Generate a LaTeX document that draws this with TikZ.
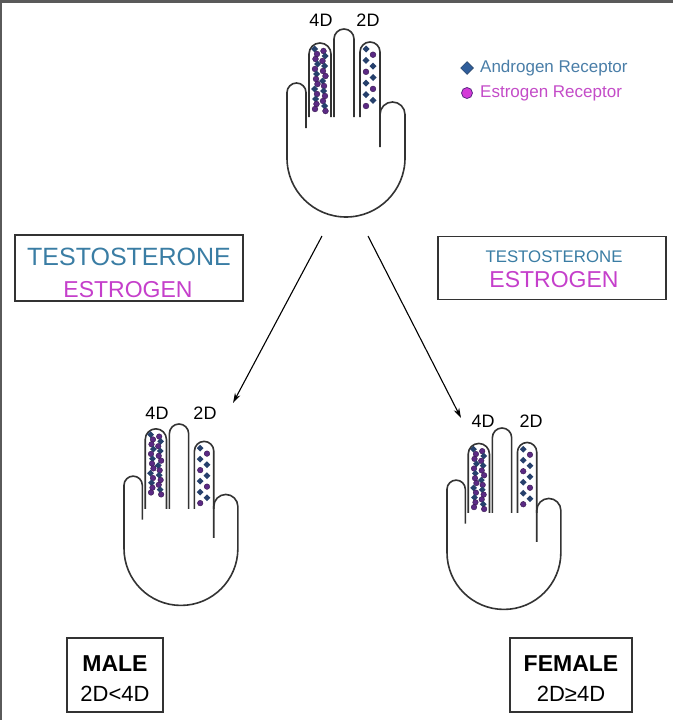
\documentclass[tikz,border=0pt]{standalone}
\usepackage{fontspec}
\setmainfont{Liberation Sans}
\usetikzlibrary{arrows.meta,shapes.geometric}

\definecolor{tcol}{HTML}{3A7DA4}
\definecolor{ecol}{HTML}{C53FCB}
\definecolor{dotC}{HTML}{5B2A84}
\definecolor{dotD}{HTML}{26406C}
\definecolor{legD}{HTML}{2F5D9A}
\definecolor{legC}{HTML}{D43AD8}
\definecolor{legAT}{HTML}{4A7EA8}
\definecolor{legET}{HTML}{C44CC8}
\definecolor{framecol}{HTML}{5A5A5A}
\definecolor{ink}{HTML}{333333}

\tikzset{
  handline/.style={draw=ink, line width=1.6, line join=round},
  boxframe/.style={draw=ink, line width=1.6, inner sep=0pt},
  dlabel/.style={font=\fontsize{18}{21}\selectfont, inner sep=0pt},
  flow/.style={draw=black, line width=1.1, -{Stealth[length=10pt,width=6pt]}},
}

% receptor markers (local coordinates)
\newcommand{\mkC}[2]{\fill[dotC, draw=dotC!60!black, line width=0.4] (#1,#2) circle[radius=2.9];}
\newcommand{\mkD}[2]{\fill[dotD] (#1,#2-3.5) -- (#1+3.5,#2) -- (#1,#2+3.5) -- (#1-3.5,#2) -- cycle;}
% circle or diamond by type number
\newcommand{\mkAny}[3]{\ifnum#1<2 \mkD{#2}{#3}\else\mkC{#2}{#3}\fi}

% hand: #1 left x, #2 top of middle finger, #3 4D top offset, #4 2D top offset, #5 scale
\newcommand{\drawhand}[5]{%
\begin{scope}[shift={(#1,#2)}, scale=#5]
  \draw[handline] (19,99) -- (19,63.5) arc[start angle=360, end angle=180, radius=9.5]
     -- (0,129) arc[start angle=180, end angle=0, radius=59]
     -- (118,85.5) arc[start angle=0, end angle=-180, radius=12.5] -- (93,118);
  \draw[handline] (22,88) -- (22,#3+11) arc[start angle=180, end angle=360, radius=11] -- (44,88);
  \draw[handline] (47,88) -- (47,10) arc[start angle=180, end angle=360, radius=10] -- (67,88);
  \draw[handline] (73,88) -- (73,#4+10) arc[start angle=180, end angle=360, radius=10] -- (93,88);
  % dense receptors in the 4D finger
  \foreach \i in {0,...,12}{
    \pgfmathsetmacro\yy{#3+6+5*\i}
    \pgfmathsetmacro\xa{27.5+{0,2.5,1,3,0.5,2,1.5,3,0,2.5,1,2,0.5}[\i]}
    \pgfmathsetmacro\xb{38.5-{2,0.5,3,1,2.5,0,3,1.5,2,0.5,2.5,1,0}[\i]}
    \pgfmathtruncatemacro\ta{mod(\i*7,5)}
    \pgfmathtruncatemacro\tb{mod(\i*3+2,5)}
    \mkAny{\ta}{\xa}{\yy}\mkAny{\tb}{\xb}{\yy+2}
  }
  % sparse receptors in the 2D finger
  \foreach \i in {0,...,10}{
    \pgfmathsetmacro\yy{#4+7+5.7*\i}
    \pgfmathsetmacro\xa{79+7*mod(\i,2)}
    \ifnum\numexpr\i-3*(\i/3)\relax=1 \mkC{\xa}{\yy}\else \mkD{\xa}{\yy}\fi
  }
\end{scope}}

\begin{document}
\begin{tikzpicture}[x=1pt, y=-1pt]
\useasboundingbox (0,0) rectangle (673,720);
\fill[white] (0,0) rectangle (673,720);
\fill[framecol] (0,0) rectangle (673,2.5);
\fill[framecol] (0,0) rectangle (1.8,720);

% hands
\drawhand{287}{29}{14}{13}{1}
\drawhand{124}{424}{5}{18}{0.965}
\drawhand{447}{428}{16}{15}{0.965}

% finger labels
\node[dlabel] (t4) at (321,20) {4D};
\node[dlabel] (t2) at (368,20) {2D};
\node[dlabel] (m4) at (157,413) {4D};
\node[dlabel] (m2) at (205,413) {2D};
\node[dlabel] (f4) at (483,421) {4D};
\node[dlabel] (f2) at (531,421) {2D};

% legend
\node[diamond, fill=legD, draw=legD!60!black, line width=0.5, minimum size=13pt, inner sep=0pt] (ldiam) at (467,68) {};
\node[circle, fill=legC, draw=dotC, line width=0.8, minimum size=11pt, inner sep=0pt] (lcirc) at (467,93) {};
\node[anchor=west, text=legAT, font=\fontsize{17}{20}\selectfont, inner sep=0pt] (lat) at (480,68) {Androgen Receptor};
\node[anchor=west, text=legET, font=\fontsize{17}{20}\selectfont, inner sep=0pt] (let) at (480,93) {Estrogen Receptor};

% hormone level boxes
\node[boxframe, minimum width=228pt, minimum height=66pt] (lbox) at (129,268) {};
\node[text=tcol, font=\fontsize{25}{29}\selectfont, anchor=base, inner sep=0pt] (ltes) at (129,265) {TESTOSTERONE};
\node[text=ecol, font=\fontsize{23}{28}\selectfont, anchor=base, inner sep=0pt] (lest) at (128,297) {ESTROGEN};

\node[boxframe, minimum width=228pt, minimum height=63pt] (rbox) at (552,268) {};
\node[text=tcol, font=\fontsize{16.8}{19}\selectfont, anchor=base, inner sep=0pt] (rtes) at (554,262) {TESTOSTERONE};
\node[text=ecol, font=\fontsize{23}{28}\selectfont, anchor=base, inner sep=0pt] (rest) at (554,287) {ESTROGEN};

% arrows
\coordinate (aL0) at (322,236);
\coordinate (aL1) at (233,403);
\coordinate (aR0) at (368,236);
\coordinate (aR1) at (461,418);
\draw[flow] (aL0) -- (aL1);
\draw[flow] (aR0) -- (aR1);

% outcome boxes
\node[boxframe, minimum width=96pt, minimum height=74pt] (mbox) at (115,675) {};
\node[font=\bfseries\fontsize{23}{28}\selectfont, anchor=base, inner sep=0pt] (mt) at (115,671) {MALE};
\node[font=\fontsize{22}{26}\selectfont, anchor=base, inner sep=0pt] (mr) at (115,701) {2D<4D};

\node[boxframe, minimum width=122pt, minimum height=74pt] (fbox) at (571,675) {};
\node[font=\bfseries\fontsize{23}{28}\selectfont, anchor=base, inner sep=0pt] (ft) at (571,671) {FEMALE};
\node[font=\fontsize{22}{26}\selectfont, anchor=base, inner sep=0pt] (fr) at (571,701) {2D≥4D};
\end{tikzpicture}
\end{document}
